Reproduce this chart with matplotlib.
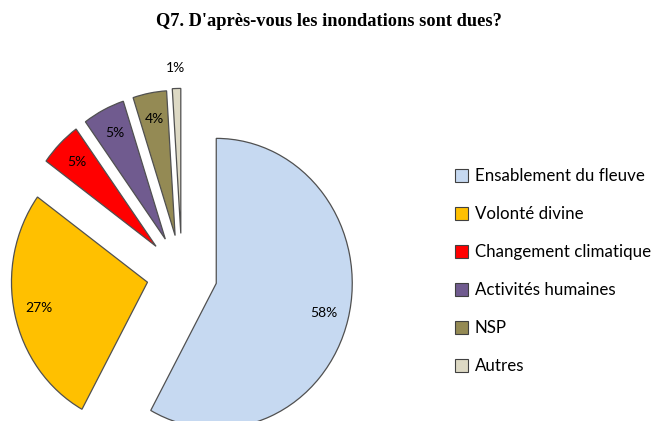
import matplotlib
matplotlib.use("Agg")
import matplotlib.pyplot as plt
import numpy as np

categories = ["Ensablement du fleuve", "Volonté divine", "Changement climatique",
              "Activités humaines", "NSP", "Autres"]
values = [58, 27, 5, 5, 4, 1]
colors = ["#C6D9F1", "#FFC000", "#FF0000", "#705B8F", "#948A54", "#DDD9C4"]
explode = [0.26, 0.26, 0.27, 0.27, 0.27, 0.28]
title = "Q7. D'après-vous les inondations sont dues?"

W, H = 664, 421
fig = plt.figure(figsize=(W / 100, H / 100), dpi=100)

cx, cy = 182, 274      # pixel center (from top)
rx, ry = 136, 145
axw = 364
ax = fig.add_axes([0, 0, axw / W, 1])
wedges, texts, autotexts = ax.pie(
    values, colors=colors, explode=explode, startangle=90, counterclock=False,
    autopct=lambda p: f"{p:.0f}%", pctdistance=0.82,
    wedgeprops=dict(edgecolor="#505050", linewidth=0.9),
    textprops=dict(fontsize=10, family="Lato", color="black"))
ax.set_aspect("auto")
ax.set_xlim(-cx / rx, (axw - cx) / rx)
ax.set_ylim(-(H - cy) / ry, cy / ry)
ax.axis("off")

# move last label outside
w = wedges[-1]
ang = np.deg2rad((w.theta1 + w.theta2) / 2)
c = w.center
autotexts[-1].set_position((c[0] + 1.14 * np.cos(ang), c[1] + 1.14 * np.sin(ang)))

fig.text(329 / W, 1 - 22 / H, title, ha="center", va="center",
         fontsize=13.2, fontweight="bold", family="Liberation Serif")

from matplotlib.patches import Patch
handles = [Patch(facecolor=col, edgecolor="#404040", linewidth=0.8) for col in colors]
fig.legend(handles, categories, loc="upper left", bbox_to_anchor=(440 / W, 1 - 153 / H),
           frameon=False, prop=dict(family="Lato", size=12.2),
           handlelength=0.75, handleheight=0.75, handletextpad=0.4, labelspacing=1.3)

fig.savefig("out.png", dpi=100)
